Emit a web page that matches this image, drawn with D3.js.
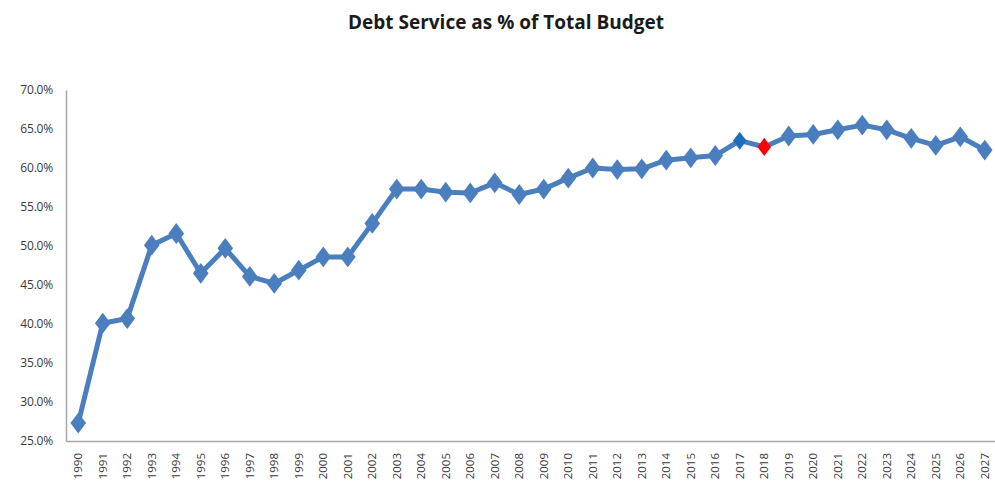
<!DOCTYPE html>
<meta charset="utf-8">
<html>
<head>
<style>
    body { margin: 0; background: #fff; }
    .title { font-family: "Open Sans", sans-serif; font-weight: bold; font-size: 19px; fill: #1a1a1a; }
    .axis text { font-family: "Open Sans", sans-serif; fill: #3a3a3a; }
    .axis path, .axis line { stroke: #a6a6a6; }
</style>
</head>
<body>
<svg width="995" height="482"></svg>
<script src="https://cdn.jsdelivr.net/npm/d3@7"></script>
<script>

    var years = ["1990","1991","1992","1993","1994","1995","1996","1997","1998","1999",
                 "2000","2001","2002","2003","2004","2005","2006","2007","2008","2009",
                 "2010","2011","2012","2013","2014","2015","2016","2017","2018","2019",
                 "2020","2021","2022","2023","2024","2025","2026","2027"];
    var debtPct = [27.3, 40.1, 40.7, 50.1, 51.6, 46.5, 49.7, 46.1, 45.2, 46.9,
                   48.6, 48.6, 52.9, 57.3, 57.3, 56.9, 56.8, 58.1, 56.6, 57.3,
                   58.7, 60.0, 59.8, 59.9, 61.0, 61.3, 61.6, 63.5, 62.7, 64.1,
                   64.3, 64.9, 65.5, 64.9, 63.8, 62.9, 64.0, 62.3];
    var yTicks = [25, 30, 35, 40, 45, 50, 55, 60, 65, 70];
    var highlight = {"2017": "#1f6dbf", "2018": "#ff0000"}; // current / next year markers

    var svg = d3.select("svg");

    var x = d3.scaleBand().domain(years).range([66, 997]);
    var y = d3.scaleLinear().domain([25, 70]).range([441, 90]);

    svg.append("text")
        .attr("class", "title")
        .attr("x", 506)
        .attr("y", 29)
        .attr("text-anchor", "middle")
        .text("Debt Service as % of Total Budget");

    // y axis
    var yAxis = svg.append("g")
        .attr("class", "axis")
        .attr("transform", "translate(66,0)")
        .call(d3.axisLeft(y).tickValues(yTicks).tickSize(0).tickPadding(13)
            .tickFormat(function(d) { return d.toFixed(1) + "%"; }));
    yAxis.select(".domain").attr("stroke-width", 1.5);
    yAxis.selectAll("text").style("font-size", "12px").style("letter-spacing", "-0.2px");

    // x axis
    var xAxis = svg.append("g")
        .attr("class", "axis")
        .attr("transform", "translate(0,441)")
        .call(d3.axisBottom(x).tickSize(0).tickPadding(0));
    xAxis.select(".domain").attr("stroke-width", 1.5);
    xAxis.selectAll("text")
        .style("font-size", "11.5px")
        .attr("text-anchor", "end")
        .attr("dy", "0.35em")
        .attr("transform", "translate(0,12) rotate(-90)")
        .attr("x", 0)
        .attr("y", 0);

    var pts = years.map(function(yr, i) {
        return { year: yr, v: debtPct[i], cx: x(yr) + x.bandwidth() / 2, cy: y(debtPct[i]) };
    });

    var line = d3.line()
        .x(function(d) { return d.cx; })
        .y(function(d) { return d.cy; });

    svg.append("path")
        .datum(pts)
        .attr("fill", "none")
        .attr("stroke", "#4a7ebf")
        .attr("stroke-width", 5)
        .attr("stroke-linejoin", "round")
        .attr("d", line);

    var diamond = d3.symbol().type(d3.symbolDiamond).size(125);

    svg.append("g")
        .selectAll("path")
        .data(pts)
        .enter().append("path")
        .attr("transform", function(d) { return "translate(" + d.cx + "," + d.cy + ") scale(1.3,1)"; })
        .attr("d", function(d) { return highlight[d.year] ? d3.symbol().type(d3.symbolDiamond).size(95)() : diamond(); })
        .attr("fill", function(d) { return highlight[d.year] || "#4a7ebf"; });

</script>
</body>
</html>
